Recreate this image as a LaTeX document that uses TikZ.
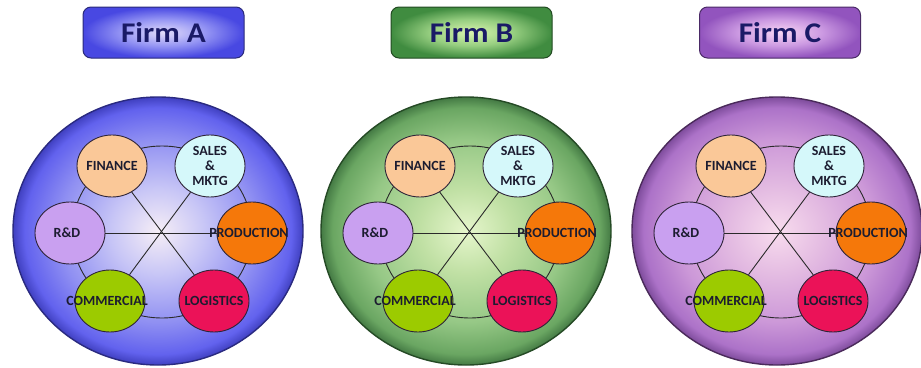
\documentclass[tikz,border=0pt]{standalone}
\usepackage{fontspec}
\setmainfont{Carlito}
\usetikzlibrary{shapes.geometric}

% disc colours (centre -> rim)
\definecolor{aC0}{HTML}{F6EEF6}\definecolor{aC1}{HTML}{C8C6F6}\definecolor{aC2}{HTML}{9090F2}
\definecolor{aC3}{HTML}{6262EE}\definecolor{aC4}{HTML}{4040C0}\definecolor{aRim}{HTML}{2A2A80}
\definecolor{bC0}{HTML}{E6F6CC}\definecolor{bC1}{HTML}{C0E0A4}\definecolor{bC2}{HTML}{96C886}
\definecolor{bC3}{HTML}{6AA662}\definecolor{bC4}{HTML}{447A44}\definecolor{bRim}{HTML}{254A25}
\definecolor{cC0}{HTML}{F8DCEE}\definecolor{cC1}{HTML}{E4BCE2}\definecolor{cC2}{HTML}{CC98D8}
\definecolor{cC3}{HTML}{AC72C8}\definecolor{cC4}{HTML}{7E4C9C}\definecolor{cRim}{HTML}{4A2A5A}
% title tag colours
\definecolor{tA0}{HTML}{E2DCFA}\definecolor{tA1}{HTML}{9696F4}\definecolor{tA2}{HTML}{4848E2}\definecolor{tARim}{HTML}{2A2A7A}
\definecolor{tB0}{HTML}{DAF4AE}\definecolor{tB1}{HTML}{96CE80}\definecolor{tB2}{HTML}{408C40}\definecolor{tBRim}{HTML}{224A22}
\definecolor{tC0}{HTML}{F8D6F4}\definecolor{tC1}{HTML}{CC9AE2}\definecolor{tC2}{HTML}{9254BE}\definecolor{tCRim}{HTML}{4A2A66}
\definecolor{tagink}{HTML}{1A1A66}
% function units
\definecolor{finC}{HTML}{FAC898}\definecolor{salC}{HTML}{D5F8FA}\definecolor{rdC}{HTML}{C9A0F0}
\definecolor{proC}{HTML}{F5780A}\definecolor{comC}{HTML}{9CCB00}\definecolor{logC}{HTML}{EB1258}
\definecolor{unitline}{HTML}{2E2438}\definecolor{labelink}{HTML}{1C1C30}\definecolor{linkcol}{HTML}{2A2A2A}

\pgfdeclareradialshading{discA}{\pgfpointorigin}{color(0bp)=(aC0); color(8bp)=(aC1); color(17bp)=(aC2); color(23bp)=(aC3); color(25bp)=(aC4); color(50bp)=(aC4)}
\pgfdeclareradialshading{discB}{\pgfpointorigin}{color(0bp)=(bC0); color(8bp)=(bC1); color(17bp)=(bC2); color(23bp)=(bC3); color(25bp)=(bC4); color(50bp)=(bC4)}
\pgfdeclareradialshading{discC}{\pgfpointorigin}{color(0bp)=(cC0); color(8bp)=(cC1); color(17bp)=(cC2); color(23bp)=(cC3); color(25bp)=(cC4); color(50bp)=(cC4)}
\pgfdeclareradialshading{tagA}{\pgfpointorigin}{color(0bp)=(tA0); color(13bp)=(tA1); color(25bp)=(tA2); color(50bp)=(tA2)}
\pgfdeclareradialshading{tagB}{\pgfpointorigin}{color(0bp)=(tB0); color(13bp)=(tB1); color(25bp)=(tB2); color(50bp)=(tB2)}
\pgfdeclareradialshading{tagC}{\pgfpointorigin}{color(0bp)=(tC0); color(13bp)=(tC1); color(25bp)=(tC2); color(50bp)=(tC2)}

\begin{document}
\begin{tikzpicture}[x=1pt,y=-1pt,
  unit/.style={ellipse, draw=unitline, line width=0.9pt, minimum width=70pt, minimum height=62pt, inner sep=0pt},
  unitlabel/.style={font=\fontsize{14}{14.8}\selectfont\bfseries, text=labelink, align=center, inner sep=0pt},
  link/.style={draw=linkcol, line width=0.9pt},
  firmtag/.style={rectangle, rounded corners=8pt, minimum width=161pt, minimum height=51pt,
    line width=1pt, text=tagink, font=\fontsize{28.5}{30}\selectfont\bfseries\addfontfeature{FakeStretch=1.1}, inner sep=0pt},
  pics/firm/.style n args={2}{code={
    % outer disc
    \path[shading=#1, draw=#2, line width=1.4pt] (-4,-1) ellipse [x radius=145, y radius=134];
    % ring joining the units
    \draw[link] (0,0) ellipse [x radius=90, y radius=86];
    % the six functions
    \node[unit, fill=finC] (-fin) at (-50,-66) {};
    \node[unit, fill=salC] (-sal) at (48,-66) {};
    \node[unit, fill=rdC]  (-rd)  at (-92,1) {};
    \node[unit, fill=proC] (-pro) at (90,1) {};
    \node[unit, fill=comC] (-com) at (-52,69) {};
    \node[unit, fill=logC] (-log) at (52,69) {};
    % spokes through the hub
    \draw[link] (-fin) -- (-log);
    \draw[link] (-sal) -- (-com);
    \draw[link] (-rd) -- (-pro);
    % labels
    \node[unitlabel] (-finT) at (-fin) {FINANCE};
    \node[unitlabel] (-salT) at (-sal) {SALES\\\&\\MKTG};
    \node[unitlabel] (-rdT)  at ([xshift=-3pt]-rd) {R\&D};
    \node[unitlabel] (-proT) at ([xshift=-3pt]-pro) {PRODUCTION};
    \node[unitlabel] (-comT) at ([xshift=-3pt]-com) {COMMERCIAL};
    \node[unitlabel] (-logT) at (-log) {LOGISTICS};
  }}
]
\useasboundingbox (0,0) rectangle (921,367);

\pic (A) at (162,232) {firm={discA}{aRim}};
\pic (B) at (470,232) {firm={discB}{bRim}};
\pic (C) at (781,232) {firm={discC}{cRim}};

\node[firmtag, shading=tagA, draw=tARim] (tagA) at (163.5,32.5) {Firm A};
\node[firmtag, shading=tagB, draw=tBRim] (tagB) at (471.5,32.5) {Firm B};
\node[firmtag, shading=tagC, draw=tCRim] (tagC) at (780,32.5) {Firm C};
\end{tikzpicture}
\end{document}
